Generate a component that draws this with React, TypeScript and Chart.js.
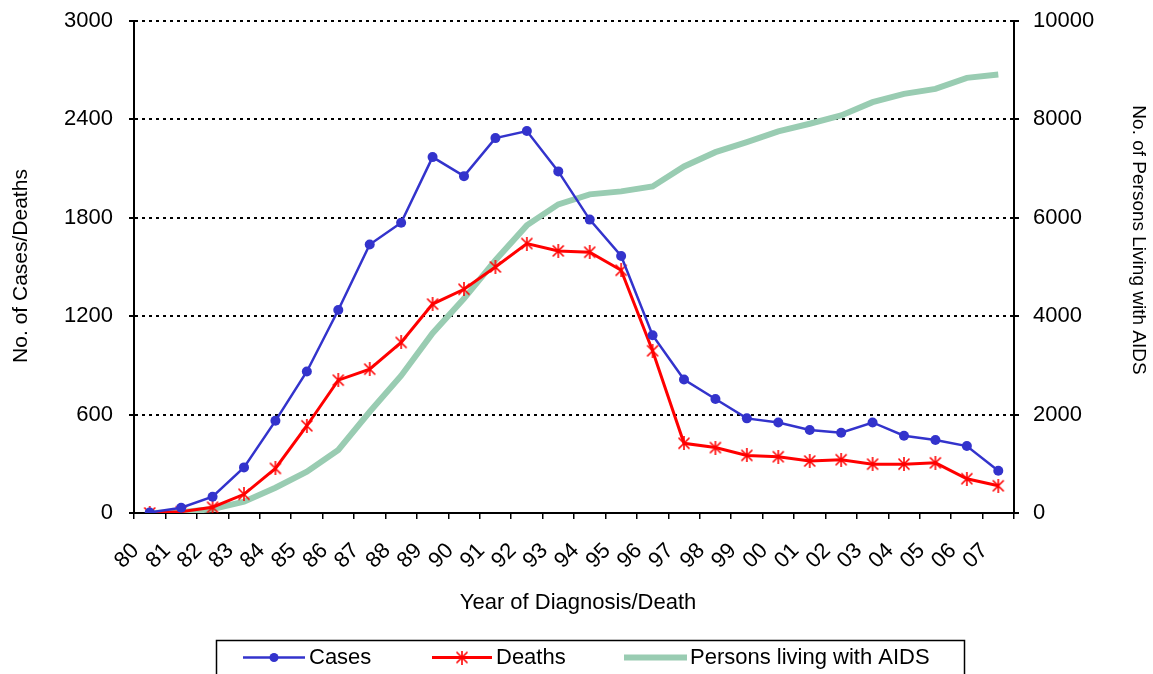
import React, { useEffect, useRef } from 'react';
import { Chart, registerables } from 'chart.js';

Chart.register(...registerables);

// ---- Data ----
const years = ['80', '81', '82', '83', '84', '85', '86', '87', '88', '89', '90', '91', '92', '93', '94', '95', '96', '97', '98', '99', '00', '01', '02', '03', '04', '05', '06', '07'];
const cases = [3, 32, 99, 278, 562, 863, 1238, 1637, 1770, 2170, 2054, 2286, 2329, 2083, 1789, 1567, 1084, 814, 695, 577, 552, 506, 489, 552, 471, 445, 408, 258];
const deaths = [0, 8, 35, 114, 272, 532, 810, 877, 1040, 1274, 1364, 1500, 1643, 1598, 1590, 1480, 989, 425, 399, 351, 343, 317, 325, 298, 298, 306, 209, 166];
const living = [0, 15, 80, 230, 514, 840, 1280, 2057, 2790, 3655, 4358, 5136, 5846, 6273, 6476, 6537, 6638, 7044, 7334, 7537, 7755, 7911, 8079, 8350, 8520, 8621, 8845, 8912];
const leftTicks = [0, 600, 1200, 1800, 2400, 3000];
const rightTicks = [0, 2000, 4000, 6000, 8000, 10000];
const seriesNames = ['Cases', 'Deaths', 'Persons living with AIDS'];
const xTitle = 'Year of Diagnosis/Death';
const leftTitle = 'No. of Cases/Deaths';
const rightTitle = 'No. of Persons Living with AIDS';

const FONT = "'Liberation Sans', Arial, sans-serif";
const BLUE = '#3333CC';
const RED = '#FF0000';
const GREEN = '#99CCB2';

function makeStar(): HTMLCanvasElement {
  const c = document.createElement('canvas');
  c.width = 14;
  c.height = 14;
  const g = c.getContext('2d')!;
  g.strokeStyle = RED;
  g.lineWidth = 1.6;
  g.beginPath();
  g.moveTo(1.5, 1.5); g.lineTo(12.5, 12.5);
  g.moveTo(12.5, 1.5); g.lineTo(1.5, 12.5);
  g.moveTo(7, 0); g.lineTo(7, 14);
  g.stroke();
  return c;
}

export default function App() {
  const ref = useRef<HTMLCanvasElement | null>(null);

  useEffect(() => {
    document.body.style.margin = '0';
    document.body.style.overflow = 'hidden';
    const canvas = ref.current;
    if (!canvas) return;
    const star = makeStar();

    const overlay = {
      id: 'overlay',
      afterDraw(chart: any) {
        const ctx = chart.ctx as CanvasRenderingContext2D;
        ctx.save();
        ctx.fillStyle = '#000';
        ctx.textBaseline = 'middle';
        ctx.textAlign = 'center';
        // x title
        ctx.font = `22px ${FONT}`;
        ctx.fillText(xTitle, 578, 603);
        // left title
        ctx.save();
        ctx.translate(21, 266);
        ctx.rotate(-Math.PI / 2);
        ctx.font = `21px ${FONT}`;
        ctx.fillText(leftTitle, 0, 0);
        ctx.restore();
        // right title
        ctx.save();
        ctx.translate(1138, 240);
        ctx.rotate(Math.PI / 2);
        ctx.font = `19px ${FONT}`;
        ctx.fillText(rightTitle, 0, 0);
        ctx.restore();

        // legend
        ctx.strokeStyle = '#000';
        ctx.lineWidth = 1.5;
        ctx.strokeRect(216.5, 640.5, 748, 40);
        const ly = 657.5;
        ctx.lineCap = 'butt';
        // cases
        ctx.strokeStyle = BLUE;
        ctx.lineWidth = 2.5;
        ctx.beginPath(); ctx.moveTo(243, ly); ctx.lineTo(305, ly); ctx.stroke();
        ctx.fillStyle = BLUE;
        ctx.beginPath(); ctx.arc(274, ly, 4.5, 0, Math.PI * 2); ctx.fill();
        // deaths
        ctx.strokeStyle = RED;
        ctx.lineWidth = 3;
        ctx.beginPath(); ctx.moveTo(432, ly); ctx.lineTo(492, ly); ctx.stroke();
        ctx.drawImage(star, 462 - 7, ly - 7);
        // living
        ctx.strokeStyle = GREEN;
        ctx.lineWidth = 6;
        ctx.beginPath(); ctx.moveTo(624, ly); ctx.lineTo(687, ly); ctx.stroke();

        ctx.fillStyle = '#000';
        ctx.textAlign = 'left';
        ctx.font = `22px ${FONT}`;
        ctx.fillText(seriesNames[0], 309, ly);
        ctx.fillText(seriesNames[1], 496, ly);
        ctx.fillText(seriesNames[2], 690, ly);
        ctx.restore();
      },
    };

    const chart = new Chart(canvas, {
      type: 'line',
      data: {
        labels: years,
        datasets: [
          {
            label: seriesNames[0],
            data: cases,
            yAxisID: 'y',
            borderColor: BLUE,
            backgroundColor: BLUE,
            borderWidth: 2.5,
            pointStyle: 'circle',
            pointRadius: 5,
            pointBackgroundColor: BLUE,
            pointBorderColor: BLUE,
            pointBorderWidth: 0,
            tension: 0,
          },
          {
            label: seriesNames[1],
            data: deaths,
            yAxisID: 'y',
            borderColor: RED,
            backgroundColor: RED,
            borderWidth: 3,
            pointStyle: star as any,
            pointRadius: 7,
            tension: 0,
          },
          {
            label: seriesNames[2],
            data: living,
            yAxisID: 'y1',
            borderColor: GREEN,
            backgroundColor: GREEN,
            borderWidth: 6,
            pointRadius: 0,
            tension: 0,
          },
        ],
      },
      options: {
        animation: false,
        responsive: false,
        devicePixelRatio: 1,
        layout: { padding: { top: 21, left: 0, right: 0, bottom: 0 } },
        plugins: {
          legend: { display: false },
          tooltip: { enabled: false },
        },
        scales: {
          x: {
            type: 'category',
            offset: true,
            grid: {
              offset: true,
              drawOnChartArea: false,
              color: '#000',
              lineWidth: 1.5,
              tickLength: 6,
            },
            border: { display: true, color: '#000', width: 2 },
            ticks: {
              autoSkip: false,
              minRotation: 45,
              maxRotation: 45,
              labelOffset: -14,
              padding: 19,
              color: '#000',
              font: { family: FONT, size: 22 },
            },
            afterFit(scale: any) {
              scale.height = 161;
              scale.paddingLeft = 0;
              scale.paddingRight = 0;
            },
          },
          y: {
            position: 'left',
            min: leftTicks[0],
            max: leftTicks[leftTicks.length - 1],
            afterBuildTicks(scale: any) {
              scale.ticks = leftTicks.map((v) => ({ value: v }));
            },
            grid: {
              color: '#000',
              lineWidth: 2,
              tickLength: 5,
              tickColor: '#000',
              tickWidth: 2,
            },
            border: { display: true, color: '#000', width: 2, dash: [3, 4] },
            ticks: {
              padding: 16,
              color: '#000',
              font: { family: FONT, size: 22 },
              callback: (v: any) => String(v),
            },
            afterFit(scale: any) {
              scale.width = 134;
              scale.paddingTop = 0;
              scale.paddingBottom = 0;
            },
          },
          y1: {
            position: 'right',
            min: rightTicks[0],
            max: rightTicks[rightTicks.length - 1],
            afterBuildTicks(scale: any) {
              scale.ticks = rightTicks.map((v) => ({ value: v }));
            },
            grid: {
              drawOnChartArea: false,
              color: '#000',
              lineWidth: 2,
              tickLength: 5,
            },
            border: { display: true, color: '#000', width: 2 },
            ticks: {
              padding: 14,
              color: '#000',
              font: { family: FONT, size: 22 },
              callback: (v: any) => String(v),
            },
            afterFit(scale: any) {
              scale.width = 139;
              scale.paddingTop = 0;
              scale.paddingBottom = 0;
            },
          },
        },
      },
      plugins: [overlay],
    });

    return () => chart.destroy();
  }, []);

  return (
    <div style={{ width: 1153, height: 674, background: '#fff' }}>
      <canvas ref={ref} width={1153} height={674} style={{ display: 'block' }} />
    </div>
  );
}
